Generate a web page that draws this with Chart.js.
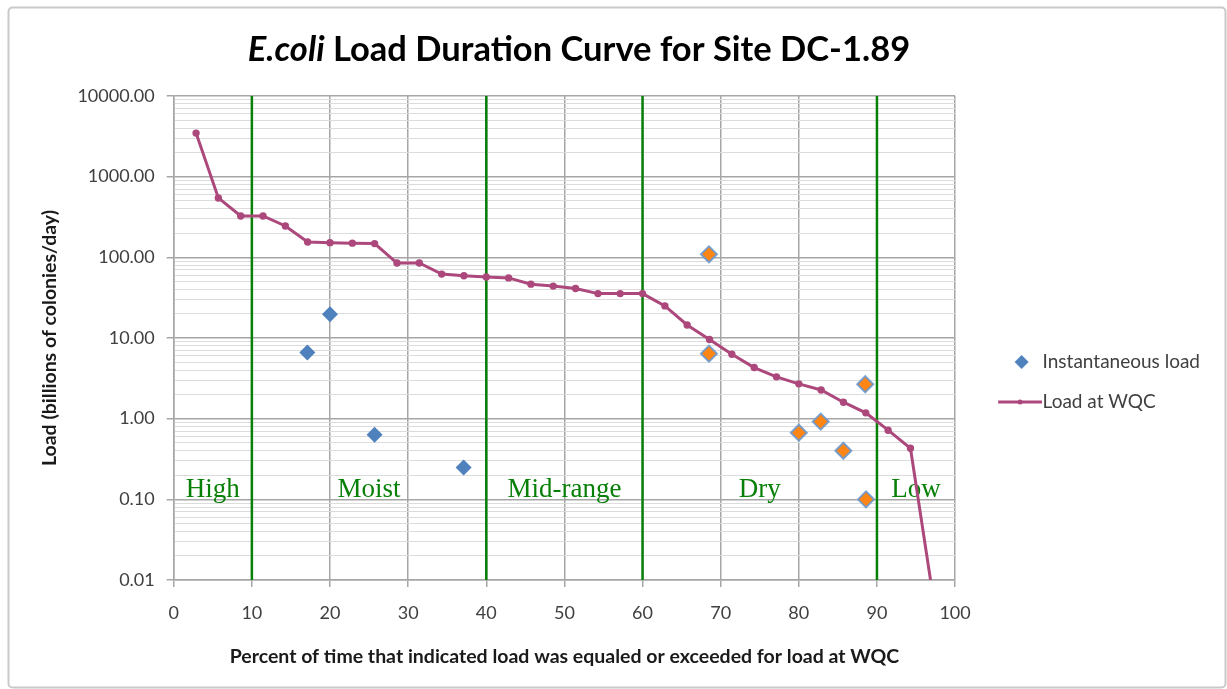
<!DOCTYPE html>
<html>
<head>
<meta charset="utf-8">
<title>E.coli Load Duration Curve for Site DC-1.89</title>
<script src="https://cdn.jsdelivr.net/npm/chart.js@4.4.1/dist/chart.umd.min.js"></script>
<style>
  html, body { margin: 0; padding: 0; background: #fff; }
  #wrap { position: relative; width: 1227px; height: 689px; }
</style>
</head>
<body>
<div id="wrap"><canvas id="ldcChart"></canvas></div>
<script>
// flow duration (percent of time exceeded) and load at the water quality criterion
var wqcPercent = [2.86, 5.71, 8.57, 11.43, 14.29, 17.14, 20.00, 22.86, 25.71, 28.57, 31.43, 34.29,
  37.14, 40.00, 42.86, 45.71, 48.57, 51.43, 54.29, 57.14, 60.00, 62.86, 65.71, 68.57,
  71.43, 74.29, 77.14, 80.00, 82.86, 85.71, 88.57, 91.43, 94.29, 97.14];
var wqcLoad = [3470, 545, 326, 326, 245, 155, 152, 150, 148, 85, 85, 62,
  59, 57, 55.6, 46.5, 44, 41, 35.5, 35.5, 35.5, 25, 14.5, 9.6,
  6.3, 4.3, 3.3, 2.7, 2.27, 1.6, 1.18, 0.72, 0.43, 0.0066];

// sampled instantaneous loads
var instPercent = [17.1, 20.0, 25.7, 37.1, 68.5, 68.5, 80.0, 82.8, 85.7, 88.5, 88.6];
var instLoad = [6.6, 19.7, 0.63, 0.248, 109, 6.4, 0.67, 0.92, 0.40, 2.67, 0.10];

// flow zones
var zoneBounds = [0, 10, 40, 60, 90, 100];
var zoneNames = ['High', 'Moist', 'Mid-range', 'Dry', 'Low'];

// axis ticks
var xTicks = [0, 10, 20, 30, 40, 50, 60, 70, 80, 90, 100];
var yDecades = [0.01, 0.1, 1, 10, 100, 1000, 10000];

var lineColor = 'rgb(172, 72, 124)';
var blue = 'rgb(79, 129, 189)';
var orange = 'rgb(255, 134, 20)';
var green = 'rgb(8, 128, 8)';

function isDecade(v) {
  var l = Math.log10(v);
  return Math.abs(l - Math.round(l)) < 1e-9;
}

// minor gridlines 2..9 in every decade
var yTickValues = [];
yDecades.forEach(function (d, i) {
  yTickValues.push(d);
  if (i < yDecades.length - 1) {
    for (var k = 2; k <= 9; k++) yTickValues.push(+(d * k).toPrecision(6));
  }
});

// legend swatches
function swatch(kind) {
  var c = document.createElement('canvas');
  c.width = 75; c.height = 16;
  var g = c.getContext('2d');
  if (kind === 'line') {
    g.strokeStyle = lineColor; g.lineWidth = 3;
    g.beginPath(); g.moveTo(31, 8); g.lineTo(75, 8); g.stroke();
    g.fillStyle = lineColor;
    g.beginPath(); g.arc(53, 8, 2.5, 0, Math.PI * 2); g.fill();
  } else {
    g.fillStyle = blue;
    g.beginPath(); g.moveTo(54.5, 1); g.lineTo(61.5, 8); g.lineTo(54.5, 15); g.lineTo(47.5, 8); g.closePath(); g.fill();
  }
  return c;
}

var framePlugin = {
  id: 'frameAndTitle',
  beforeDraw: function (chart) {
    var ctx = chart.ctx;
    ctx.save();
    ctx.fillStyle = '#fff';
    ctx.fillRect(0, 0, chart.width, chart.height);
    ctx.restore();
  },
  afterDraw: function (chart) {
    var ctx = chart.ctx;
    ctx.save();
    ctx.strokeStyle = '#c9c9c9';
    ctx.lineWidth = 2;
    ctx.beginPath();
    ctx.roundRect(8.5, 7.5, 1217, 680, 4);
    ctx.stroke();

    // title with italic organism name
    var part1 = 'E.coli';
    var part2 = ' Load Duration Curve for Site DC-1.89';
    var f1 = 'italic bold 34.5px Lato';
    var f2 = 'bold 34.5px Lato';
    ctx.font = f1; var w1 = ctx.measureText(part1).width;
    ctx.font = f2; var w2 = ctx.measureText(part2).width;
    var x0 = 579 - (w1 + w2) / 2;
    ctx.fillStyle = '#000';
    ctx.textBaseline = 'middle';
    ctx.textAlign = 'left';
    ctx.font = f1; ctx.fillText(part1, x0, 50);
    ctx.font = f2; ctx.fillText(part2, x0 + w1, 50);
    ctx.restore();
  }
};

var zonePlugin = {
  id: 'flowZones',
  beforeDatasetsDraw: function (chart) {
    var ctx = chart.ctx, xs = chart.scales.x, ys = chart.scales.y, area = chart.chartArea;
    ctx.save();
    ctx.strokeStyle = green;
    ctx.lineWidth = 2.5;
    for (var i = 1; i < zoneBounds.length - 1; i++) {
      var px = xs.getPixelForValue(zoneBounds[i]);
      ctx.beginPath();
      ctx.moveTo(px, area.top);
      ctx.lineTo(px, area.bottom);
      ctx.stroke();
    }
    ctx.fillStyle = green;
    ctx.font = '27px "Liberation Serif"';
    ctx.textAlign = 'center';
    ctx.textBaseline = 'middle';
    zoneNames.forEach(function (name, j) {
      var mid = (zoneBounds[j] + zoneBounds[j + 1]) / 2;
      ctx.fillText(name, xs.getPixelForValue(mid), ys.getPixelForValue(0.13));
    });
    ctx.restore();
  }
};

var ldcChart = new Chart(document.getElementById('ldcChart'), {
  type: 'scatter',
  data: {
    datasets: [
      {
        label: 'Instantaneous load',
        data: instPercent.map(function (p, i) { return { x: p, y: instLoad[i] }; }),
        pointStyle: 'rectRot',
        pointRadius: 8,
        pointHoverRadius: 8,
        backgroundColor: function (c) { return c.raw && c.raw.x >= 60 ? orange : blue; },
        borderColor: 'rgba(100, 150, 210, 0.85)',
        borderWidth: function (c) { return c.raw && c.raw.x >= 60 ? 2 : 0; },
        order: 1
      },
      {
        label: 'Load at WQC',
        type: 'line',
        data: wqcPercent.map(function (p, i) { return { x: p, y: wqcLoad[i] }; }),
        borderColor: lineColor,
        backgroundColor: lineColor,
        borderWidth: 3,
        pointRadius: 2.2,
        pointHoverRadius: 3,
        tension: 0,
        order: 2
      }
    ]
  },
  options: {
    responsive: true,
    maintainAspectRatio: false,
    animation: false,
    layout: { padding: { top: 96, left: 38, right: 17, bottom: 21 } },
    plugins: {
      tooltip: { enabled: false },
      title: { display: false },
      legend: {
        position: 'right',
        align: 'center',
        labels: {
          usePointStyle: true,
          pointStyleWidth: 57,
          padding: 21,
          color: '#404040',
          font: { family: 'Lato', size: 19 },
          generateLabels: function (chart) {
            return chart.data.datasets.map(function (ds, i) {
              return {
                text: ds.label,
                pointStyle: swatch(i === 1 ? 'line' : 'diamond'),
                fillStyle: 'transparent',
                strokeStyle: 'transparent',
                lineWidth: 0,
                fontColor: '#404040',
                datasetIndex: i,
                hidden: false
              };
            });
          }
        }
      }
    },
    scales: {
      x: {
        type: 'linear',
        min: 0,
        max: 100,
        afterBuildTicks: function (s) { s.ticks = xTicks.map(function (v) { return { value: v }; }); },
        ticks: { color: '#404040', font: { family: 'Lato', size: 18 }, padding: 15, maxRotation: 0 },
        grid: { color: '#a6a6a6', lineWidth: 1.5, tickLength: 7, tickColor: '#a6a6a6' },
        border: { color: '#a6a6a6', width: 1.5 },
        title: {
          display: true,
          text: 'Percent of time that indicated load was equaled or exceeded for load at WQC',
          color: '#1a1a1a',
          font: { family: 'Lato', size: 19.5, weight: 'bold' },
          padding: { top: 6, bottom: 0 }
        }
      },
      y: {
        type: 'logarithmic',
        min: 0.01,
        max: 10000,
        afterBuildTicks: function (s) {
          s.ticks = yTickValues.map(function (v) { return { value: v, major: isDecade(v) }; });
        },
        ticks: {
          autoSkip: false,
          color: '#404040',
          font: { family: 'Lato', size: 18 },
          padding: 12,
          callback: function (v) { return isDecade(v) ? Number(v).toFixed(2) : ''; }
        },
        grid: {
          color: function (c) { return c.tick && isDecade(c.tick.value) ? '#a6a6a6' : '#dcdcdc'; },
          lineWidth: function (c) { return c.tick && isDecade(c.tick.value) ? 1.5 : 1; },
          tickLength: 7,
          tickColor: function (c) { return c.tick && isDecade(c.tick.value) ? '#a6a6a6' : 'rgba(0,0,0,0)'; }
        },
        border: { color: '#a6a6a6', width: 1.5 },
        title: {
          display: true,
          text: 'Load (billions of colonies/day)',
          color: '#1a1a1a',
          font: { family: 'Lato', size: 19.5, weight: 'bold' },
          padding: { top: 0, bottom: 4 }
        }
      }
    }
  },
  plugins: [framePlugin, zonePlugin]
});
</script>
</body>
</html>
